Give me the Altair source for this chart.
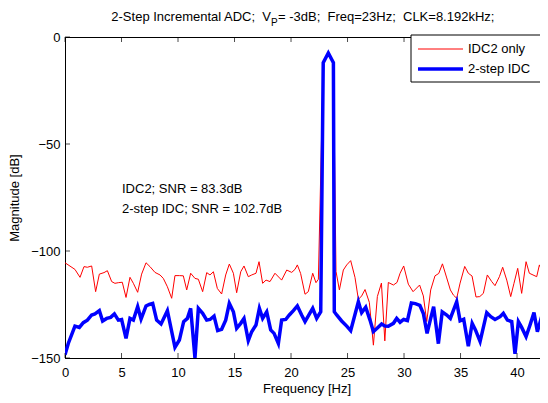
import altair as alt
import pandas as pd

# ---- data ----
blue_f = [0.0, 0.29, 0.88, 1.27, 1.62, 1.98, 2.36, 2.65, 3.04, 3.33, 3.69, 4.04, 4.37, 4.72, 5.01,
          5.40, 5.75, 6.05, 6.43, 6.73, 7.17, 7.46, 7.76, 8.11, 8.50, 9.06, 9.73, 10.12, 10.50,
          10.83, 11.12, 11.50, 11.80, 12.18, 12.54, 12.83, 13.19, 13.51, 13.86, 14.22, 14.54,
          14.90, 15.19, 15.55, 15.84, 16.22, 16.52, 16.90, 17.20, 17.49, 17.85, 18.20, 18.50,
          18.88, 19.17, 19.53, 19.85, 20.21, 20.56, 20.94, 21.24, 21.62, 21.92, 22.27, 22.63,
          22.85, 23.30, 23.75, 23.83, 24.04, 24.48, 24.93, 25.28, 25.96, 26.25, 26.61, 26.99,
          27.29, 27.64, 28.02, 28.32, 28.61, 29.06, 29.35, 29.65, 29.97, 30.30, 30.65, 31.00,
          31.40, 31.71, 32.04, 32.36, 32.62, 33.04, 33.38, 33.78, 34.10, 34.66, 34.96, 35.28,
          35.69, 36.03, 36.32, 36.73, 37.32, 37.68, 38.05, 38.50, 38.79, 39.15, 39.53, 39.82,
          40.12, 40.41, 40.80, 41.15, 41.50, 41.80, 42.09, 42.33, 42.50, 42.74]
blue_db = [-148.5, -143.2, -135.1, -135.7, -133.5, -132.3, -129.9, -129.4, -127.9, -132.7, -131.5,
           -131.0, -129.4, -132.3, -132.0, -140.8, -131.5, -132.3, -126.0, -131.8, -125.7, -125.0,
           -124.5, -132.3, -134.1, -127.9, -145.0, -141.6, -133.0, -131.5, -126.8, -150.0, -126.8,
           -129.1, -132.3, -132.0, -130.4, -137.2, -136.6, -132.3, -124.5, -128.4, -136.1, -133.8,
           -131.5, -141.9, -137.7, -134.6, -126.8, -131.5, -128.4, -136.9, -138.5, -143.2, -132.3,
           -132.0, -129.9, -127.9, -125.7, -129.9, -133.0, -129.5, -126.8, -131.5, -128.4,
           -12.0, -7.5, -12.0, -128.4, -129.9, -132.7, -135.1, -137.2, -123.7, -128.8, -126.3,
           -132.3, -137.7, -136.0, -134.1, -135.1, -135.2, -133.8, -131.5, -133.3, -132.0, -132.5,
           -124.3, -124.6, -125.4, -129.2, -138.5, -131.5, -126.0, -143.3, -128.4, -129.9, -131.5,
           -123.7, -132.6, -131.9, -144.5, -133.8, -136.9, -142.3, -128.8, -130.7, -132.0, -130.7,
           -129.1, -132.3, -133.0, -148.1, -133.0, -135.7, -140.0, -134.6, -128.8, -137.7, -132.3,
           -135.7, -135.7, -136.0]

red_f = [0.0, 0.88, 1.33, 1.68, 1.98, 2.36, 2.71, 3.04, 3.45, 3.75, 4.13, 4.42, 4.72, 5.07, 5.40,
         5.75, 6.05, 6.43, 6.78, 7.17, 7.52, 7.96, 8.41, 8.70, 9.06, 9.44, 9.73, 10.12, 10.47,
         10.77, 11.12, 11.50, 11.80, 12.18, 12.54, 12.83, 13.13, 13.48, 13.86, 14.22, 14.54,
         14.90, 15.19, 15.55, 15.84, 16.22, 16.52, 16.90, 17.17, 17.49, 17.79, 18.14, 18.58,
         19.17, 19.62, 20.06, 20.35, 20.56, 20.85, 21.24, 21.53, 21.92, 22.21, 22.42, 22.85,
         23.30, 23.75, 23.98, 24.28, 24.63, 24.93, 25.28, 25.66, 25.96, 26.25, 26.55, 26.93,
         27.29, 27.64, 28.00, 28.30, 28.61, 29.06, 29.38, 29.65, 29.97, 30.38, 30.80, 31.38,
         31.71, 32.01, 32.36, 32.74, 33.07, 33.40, 33.78, 34.10, 34.37, 34.66, 34.96, 35.37,
         35.69, 36.02, 36.37, 36.70, 37.02, 37.37, 37.76, 38.05, 38.44, 38.73, 39.09, 39.44,
         39.73, 40.06, 40.41, 40.80, 41.09, 41.74, 41.98, 42.33, 42.50, 42.74]
red_db = [-105.5, -108.6, -112.3, -107.3, -107.6, -107.0, -119.0, -110.8, -110.1, -109.2, -114.3,
          -115.1, -114.8, -114.6, -121.7, -112.3, -115.1, -119.3, -110.8, -105.5, -107.3, -110.0,
          -111.2, -112.8, -116.7, -122.1, -111.5, -111.5, -111.6, -118.2, -110.4, -112.8, -113.2,
          -119.0, -110.1, -111.2, -109.7, -117.5, -120.1, -111.2, -106.1, -110.4, -119.5, -109.7,
          -107.0, -112.0, -111.2, -110.4, -105.0, -115.1, -113.6, -114.3, -110.4, -113.6, -108.9,
          -110.0, -108.6, -106.5, -110.5, -120.2, -119.0, -110.4, -114.8, -113.2, -12.0, -7.5,
          -12.0, -109.5, -118.2, -108.9, -106.5, -104.5, -112.3, -122.6, -121.0, -118.0, -124.0,
          -144.0, -121.3, -115.0, -142.0, -114.7, -115.9, -114.7, -110.4, -107.0, -115.5, -119.0,
          -115.9, -121.0, -133.0, -118.2, -111.6, -110.5, -106.0, -112.6, -118.2, -120.6, -122.1,
          -115.0, -107.2, -110.4, -111.7, -121.5, -121.3, -119.8, -111.2, -114.3, -116.2, -112.0,
          -107.6, -113.6, -121.3, -115.1, -108.1, -119.8, -105.0, -110.4, -112.0, -106.5, -110.9,
          -110.1, -107.0]

x_ticks = [0, 5, 10, 15, 20, 25, 30, 35, 40]
y_ticks = [0, -50, -100, -150]
series_names = ["IDC2 only", "2-step IDC"]
annotations = ["IDC2; SNR = 83.3dB", "2-step IDC; SNR = 102.7dB"]
NB = "\u00a0"
title_parts = ["2-Step Incremental ADC;" + NB + " V", "P",
               "= -3dB;" + NB + " Freq=23Hz;" + NB + " CLK=8.192kHz;"]

W, H = 483, 321
FONT = "Liberation Sans"
XDOM = [0, 42.74]
YDOM = [-150, 0]

red_df = pd.DataFrame({"f": red_f, "db": red_db})
blue_df = pd.DataFrame({"f": blue_f, "db": blue_db})
one = pd.DataFrame({"a": [0]})

xs = alt.Scale(domain=XDOM, nice=False, zero=False)
ys = alt.Scale(domain=YDOM, nice=False, zero=False)

xaxis = alt.Axis(values=x_ticks, ticks=False, grid=False, labelFont=FONT, labelFontSize=13,
                 labelColor="black", labelPadding=8, title="Frequency [Hz]", titleFont=FONT,
                 titleFontSize=13, titleFontWeight="normal", titleColor="black", titlePadding=3,
                 domainColor="black", labelFlush=False)
yaxis = alt.Axis(values=y_ticks, ticks=False, grid=False, labelFont=FONT, labelFontSize=13,
                 labelColor="black", labelPadding=5, title="Magnitude [dB]", titleFont=FONT,
                 titleFontSize=13, titleFontWeight="normal", titleColor="black", titlePadding=9,
                 domainColor="black", labelFlush=False)

red = alt.Chart(red_df).mark_line(color="#ff0000", strokeWidth=1, clip=True).encode(
    x=alt.X("f:Q", scale=xs, axis=xaxis),
    y=alt.Y("db:Q", scale=ys, axis=yaxis),
)
blue = alt.Chart(blue_df).mark_line(color="#0000ff", strokeWidth=3.5, clip=True).encode(
    x=alt.X("f:Q", scale=xs), y=alt.Y("db:Q", scale=ys)
)

# inward ticks (MATLAB style) on all four sides
xt = pd.DataFrame({"t": x_ticks})
yt = pd.DataFrame({"t": y_ticks})
xt_bot = alt.Chart(xt).mark_tick(color="black", size=5, thickness=1).encode(
    x=alt.X("t:Q", scale=xs), y=alt.value(H - 2.5))
xt_top = alt.Chart(xt).mark_tick(color="black", size=5, thickness=1).encode(
    x=alt.X("t:Q", scale=xs), y=alt.value(2.5))
yt_left = alt.Chart(yt).mark_tick(color="black", size=5, thickness=1, orient="horizontal").encode(
    y=alt.Y("t:Q", scale=ys), x=alt.value(2.5))
yt_right = alt.Chart(yt).mark_tick(color="black", size=5, thickness=1, orient="horizontal").encode(
    y=alt.Y("t:Q", scale=ys), x=alt.value(W - 2.5))

# annotations
ann1 = alt.Chart(one).mark_text(text=annotations[0], font=FONT, fontSize=13, align="left",
                                baseline="alphabetic", color="black").encode(
    x=alt.value(57), y=alt.value(156))
ann2 = alt.Chart(one).mark_text(text=annotations[1], font=FONT, fontSize=13, align="left",
                                baseline="alphabetic", color="black").encode(
    x=alt.value(57), y=alt.value(176))

# title with subscript
t1 = alt.Chart(one).mark_text(text=title_parts[0], font=FONT, fontSize=13, align="right",
                              baseline="alphabetic", color="black").encode(
    x=alt.value(206), y=alt.value(-16))
t2 = alt.Chart(one).mark_text(text=title_parts[1], font=FONT, fontSize=10, align="left",
                              baseline="alphabetic", color="black").encode(
    x=alt.value(206), y=alt.value(-11))
t3 = alt.Chart(one).mark_text(text=title_parts[2], font=FONT, fontSize=13, align="left",
                              baseline="alphabetic", color="black").encode(
    x=alt.value(213), y=alt.value(-16))

# legend box
leg_box = alt.Chart(one).mark_rect(fill="white", stroke="black", strokeWidth=1).encode(
    x=alt.value(346), x2=alt.value(500), y=alt.value(-2), y2=alt.value(45))
leg_red = alt.Chart(one).mark_rule(color="#ff0000", strokeWidth=1).encode(
    x=alt.value(353), x2=alt.value(398), y=alt.value(12))
leg_blue = alt.Chart(one).mark_rule(color="#0000ff", strokeWidth=3.5).encode(
    x=alt.value(353), x2=alt.value(398), y=alt.value(32))
leg_t1 = alt.Chart(one).mark_text(text=series_names[0], font=FONT, fontSize=13, align="left",
                                  baseline="middle", color="black").encode(
    x=alt.value(403), y=alt.value(12))
leg_t2 = alt.Chart(one).mark_text(text=series_names[1], font=FONT, fontSize=13, align="left",
                                  baseline="middle", color="black").encode(
    x=alt.value(403), y=alt.value(32))

chart = alt.layer(
    red, blue, xt_bot, xt_top, yt_left, yt_right, ann1, ann2, t1, t2, t3,
    leg_box, leg_red, leg_blue, leg_t1, leg_t2
).properties(
    width=W, height=H,
    padding={"left": 57, "top": 29, "right": -8, "bottom": 45},
    autosize=alt.AutoSizeParams(type="none"),
    background="white",
).configure_view(stroke="black", strokeWidth=1)

chart.save("out.html", embed_options={"renderer": "svg", "actions": False})
